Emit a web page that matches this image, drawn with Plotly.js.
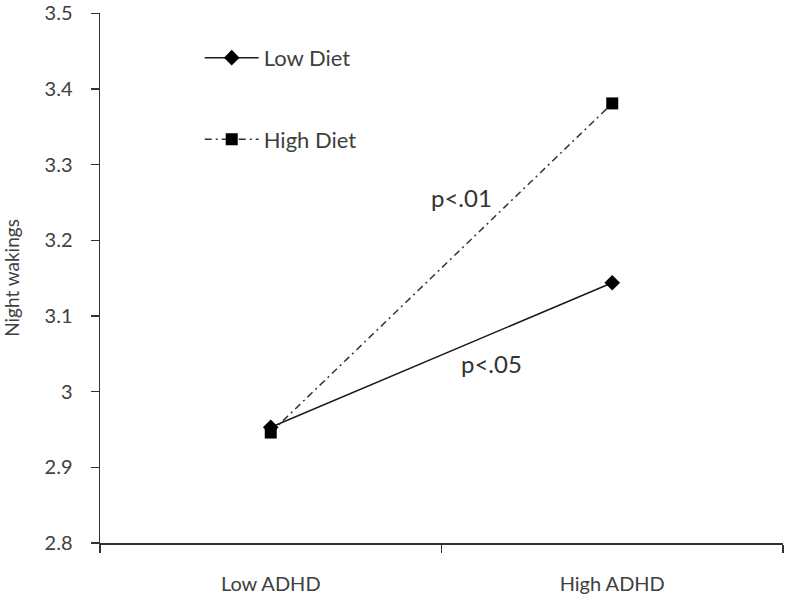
<!DOCTYPE html>
<html>
<head>
<meta charset="utf-8">
<script src="https://cdn.plot.ly/plotly-3.0.1.min.js"></script>
<style>html,body{margin:0;padding:0;background:#fff;}#chart{width:787px;height:596px;}</style>
</head>
<body>
<div id="chart"></div>
<script>
const categories = ["Low ADHD", "High ADHD"];
const lowDiet = [2.953, 3.144];
const highDiet = [2.946, 3.381];
const seriesNames = ["Low Diet", "High Diet"];
const yTicks = [2.8, 2.9, 3.0, 3.1, 3.2, 3.3, 3.4, 3.5];
const yTickLabels = ["2.8", "2.9", "3", "3.1", "3.2", "3.3", "3.4", "3.5"];

const font = "Lato, 'Open Sans', sans-serif";
const traces = [
  {
    x: categories, y: lowDiet, name: seriesNames[0], type: "scatter", mode: "lines+markers",
    legendgroup: "a",
    line: {color: "#1a1a1a", width: 1.5},
    marker: {symbol: "diamond", size: 12, color: "#000"}
  },
  {
    x: categories, y: highDiet, name: seriesNames[1], type: "scatter", mode: "lines+markers",
    legendgroup: "b",
    line: {color: "#333", width: 1.5, dash: "7px,4px,2px,4px"},
    marker: {symbol: "square", size: 12, color: "#000"}
  }
];

const layout = {
  width: 787, height: 596,
  margin: {l: 100, r: 4, t: 13, b: 53},
  paper_bgcolor: "#fff", plot_bgcolor: "#fff",
  font: {family: font, color: "#404040", size: 20},
  showlegend: true,
  legend: {
    x: 0.146, y: 0.955, xanchor: "left", yanchor: "top",
    font: {family: font, size: 22, color: "#404040"},
    tracegroupgap: 50, itemwidth: 54, bgcolor: "rgba(0,0,0,0)"
  },
  xaxis: {
    type: "category", range: [-0.5, 1.5],
    showline: true, linecolor: "#333", linewidth: 1.5,
    ticks: "outside", tickson: "boundaries", ticklen: 8, tickcolor: "#333", tickwidth: 1.5,
    showgrid: false, zeroline: false,
    tickfont: {family: font, size: 20, color: "#404040"},
    ticklabelstandoff: 22
  },
  yaxis: {
    range: [2.8, 3.5005], tickvals: yTicks, ticktext: yTickLabels,
    showline: true, linecolor: "#333", linewidth: 1.5,
    ticks: "outside", ticklen: 8, tickcolor: "#333", tickwidth: 1.5,
    showgrid: false, zeroline: false, ticklabeloverflow: "allow",
    tickfont: {family: font, size: 20, color: "#404040"},
    ticklabelstandoff: 14,
    title: {text: "Night wakings", font: {family: font, size: 19, color: "#404040"}, standoff: 30}
  },
  annotations: [
    {text: "p<.01", xref: "paper", yref: "paper", x: 0.53, y: 0.652, showarrow: false,
     font: {family: font, size: 24, color: "#333"}},
    {text: "p<.05", xref: "paper", yref: "paper", x: 0.573, y: 0.308, showarrow: false,
     font: {family: font, size: 24, color: "#333"}}
  ]
};

Plotly.newPlot("chart", traces, layout, {displayModeBar: false, staticPlot: true});
</script>
</body>
</html>
